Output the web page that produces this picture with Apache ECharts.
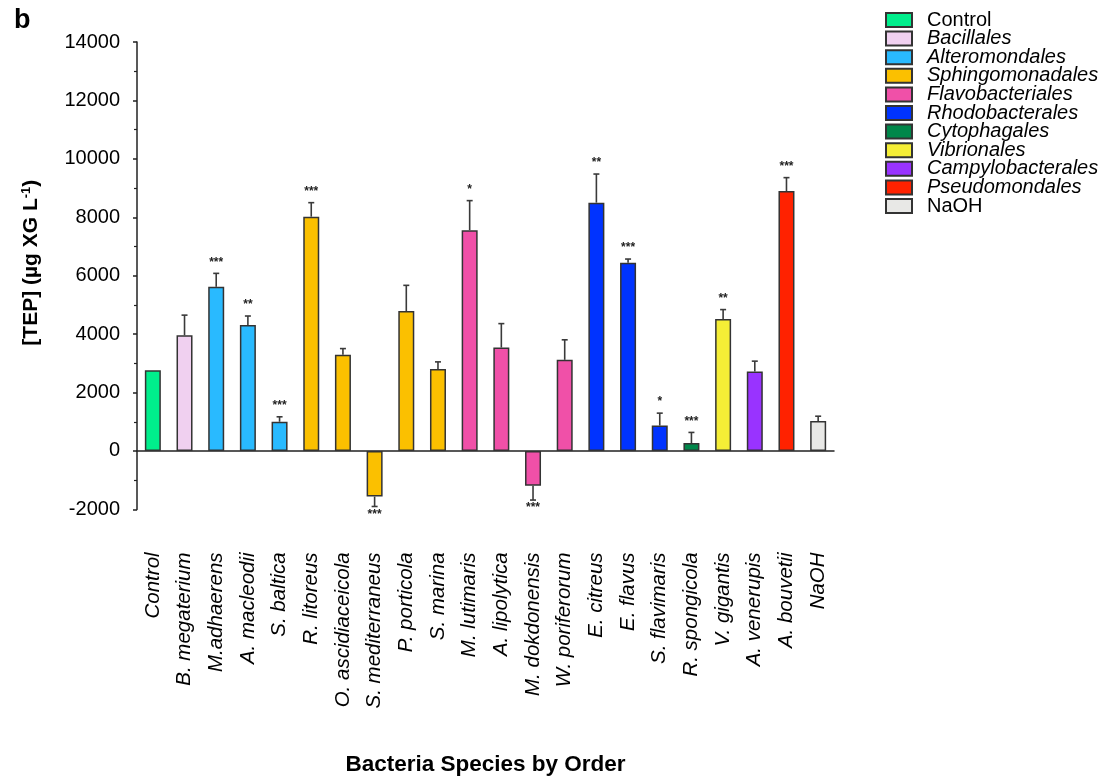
<!DOCTYPE html>
<html><head><meta charset="utf-8">
<script src="https://cdn.jsdelivr.net/npm/echarts@6/dist/echarts.min.js"></script>
<style>html,body{margin:0;padding:0;background:#fff}#c{width:1099px;height:777px}</style>
</head><body><div id="c"></div>
<script>
const categories = ['Control','B. megaterium','M.adhaerens','A. macleodii','S. baltica','R. litoreus','O. ascidiaceicola','S. mediterraneus','P. porticola','S. marina','M. lutimaris','A. lipolytica','M. dokdonensis','W. poriferorum','E. citreus','E. flavus','S. flavimaris','R. spongicola','V. gigantis','A. venerupis','A. bouvetii','NaOH'];
const values = [2760, 3960, 5620, 4310, 1000, 8020, 3290, -1560, 4790, 2810, 7560, 3540, -1190, 3120, 8500, 6440, 870, 270, 4520, 2720, 8900, 1030];
const errors = [0, 690, 460, 310, 170, 480, 215, 340, 880, 240, 1010, 820, 490, 685, 980, 130, 425, 365, 320, 355, 457, 160];
const stars = ['', '', '***', '**', '***', '***', '', '***', '', '', '*', '', '***', '', '**', '***', '*', '***', '**', '', '***', ''];
const orderOf = ['Control','Bacillales','Alteromondales','Alteromondales','Alteromondales','Sphingomonadales','Sphingomonadales','Sphingomonadales','Sphingomonadales','Sphingomonadales','Flavobacteriales','Flavobacteriales','Flavobacteriales','Flavobacteriales','Rhodobacterales','Rhodobacterales','Rhodobacterales','Cytophagales','Vibrionales','Campylobacterales','Pseudomondales','NaOH'];
const orders = ['Control','Bacillales','Alteromondales','Sphingomonadales','Flavobacteriales','Rhodobacterales','Cytophagales','Vibrionales','Campylobacterales','Pseudomondales','NaOH'];
const orderColors = ['#00EE8C','#F0D0F0','#29BAFF','#FBC000','#F050A8','#0033FF','#00874A','#F5EE36','#9933FF','#FF2200','#E8E8E6'];
const italicOrders = [false,true,true,true,true,true,true,true,true,true,false];
const yTicks = {min:-2000, max:14000, interval:2000};

const FONT = 'Liberation Sans, Arial, sans-serif';
const chart = echarts.init(document.getElementById('c'), null, {renderer:'canvas'});

const barSeries = orders.map((o, k) => ({
  name: o, type: 'bar', barWidth: 16, barGap: '-100%',
  itemStyle: {color: orderColors[k], borderColor: '#333', borderWidth: 1.5},
  data: values.map((v, i) => orderOf[i] === o ? v : '-'),
  z: 2
}));

const errSeries = {
  type: 'custom', name: 'err', z: 5, silent: true,
  data: values.map((v, i) => [i, v, errors[i]]),
  renderItem: function (params, api) {
    const i = api.value(0), v = api.value(1), e = api.value(2);
    const sgn = v < 0 ? -1 : 1;
    const p0 = api.coord([i, v]);
    const p1 = api.coord([i, v + sgn * e]);
    const children = [];
    const st = {stroke: '#3a3a3a', lineWidth: 1.6};
    if (e > 0) {
      children.push({type:'line', shape:{x1:p0[0], y1:p0[1], x2:p1[0], y2:p1[1]}, style: st});
      children.push({type:'line', shape:{x1:p1[0]-3, y1:p1[1], x2:p1[0]+3, y2:p1[1]}, style: st});
    }
    const s = stars[params.dataIndex];
    if (s) {
      const ty = sgn > 0 ? p1[1] - 11 : p1[1] + 8;
      children.push({type:'text', style:{text: s, x: p1[0], y: ty, align:'center', verticalAlign:'middle', font: 'bold 12px ' + FONT, fill:'#222'}});
    }
    return {type:'group', children};
  }
};

chart.setOption({
  animation: false,
  backgroundColor: '#fff',
  title: {text: 'b', left: 9, top: 2, textStyle: {fontFamily: FONT, fontWeight: 'bold', fontSize: 27, color: '#000'}},
  legend: {
    orient: 'vertical', left: 880, top: 5, itemWidth: 26, itemHeight: 14, itemGap: -1.4,
    icon: 'rect',
    textStyle: {fontFamily: FONT, fontSize: 20, color: '#000', padding: [0,0,0,10]},
    data: orders.map((o, k) => ({name: o, textStyle: {fontStyle: italicOrders[k] ? 'italic' : 'normal'}}))
  },
  grid: {left: 137, top: 42, right: 265, bottom: 267.6, containLabel: false, outerBoundsMode: 'none'},
  xAxis: {
    type: 'category', data: categories,
    axisLine: {onZero: true, lineStyle: {color: '#222', width: 1.5}},
    axisTick: {alignWithLabel: true, length: 4, lineStyle: {color: '#222', width: 1.5}},
    axisLabel: {rotate: 90, margin: 43, interval: 0, fontFamily: FONT, fontStyle: 'italic', fontSize: 20.5, color: '#000'},
    name: 'Bacteria Species by Order', nameLocation: 'middle', nameGap: 244, nameMoveOverlap: false,
    nameTextStyle: {fontFamily: FONT, fontWeight: 'bold', fontSize: 22.5, color: '#000'}
  },
  yAxis: {
    type: 'value', min: yTicks.min, max: yTicks.max, interval: yTicks.interval,
    axisLine: {show: true, lineStyle: {color: '#222', width: 1.5}},
    axisTick: {show: true, length: 4, lineStyle: {color: '#222', width: 1.5}},
    minorTick: {show: true, splitNumber: 2, length: 3, lineStyle: {color: '#222', width: 1.2}},
    splitLine: {show: false},
    axisLabel: {margin: 17, fontFamily: FONT, fontSize: 20, color: '#000', formatter: v => String(v)},
    name: '[TEP] (µg XG L{sup|-1})', nameLocation: 'middle', nameRotate: 90, nameGap: 94, nameMoveOverlap: false,
    nameTextStyle: {fontFamily: FONT, fontWeight: 'bold', fontSize: 21, color: '#000', padding: [0,0,0,26],
      rich: {sup: {fontFamily: FONT, fontWeight: 'bold', fontSize: 13, verticalAlign: 'top', padding: [0,0,10,0], color:'#000'}}}
  },
  series: [...barSeries, errSeries]
});
</script>
</body></html>
